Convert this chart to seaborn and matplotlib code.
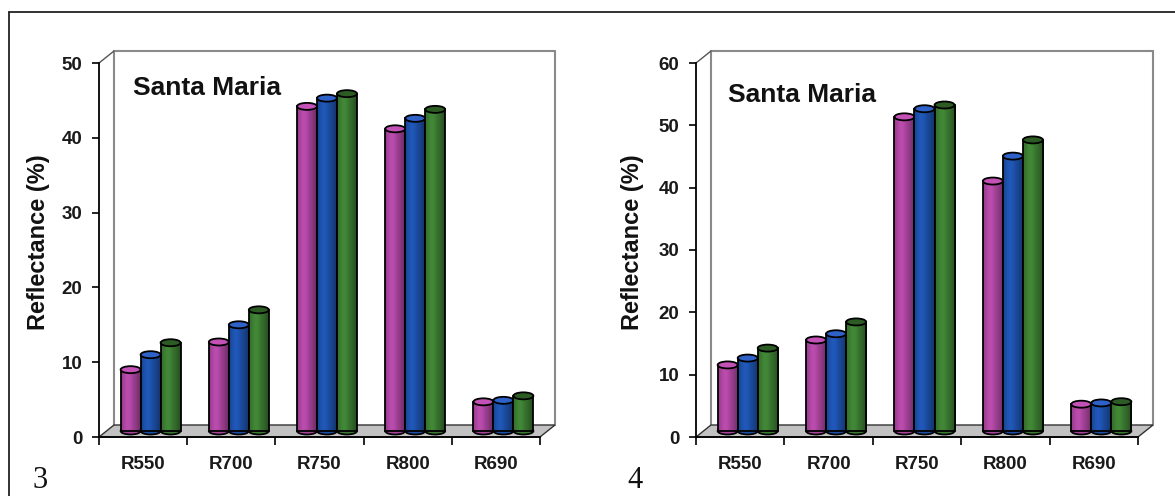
import numpy as np
import pandas as pd
import matplotlib
matplotlib.use("Agg")
import matplotlib.pyplot as plt
import matplotlib.transforms as mtransforms
from matplotlib.patches import Ellipse, Polygon
from matplotlib.lines import Line2D
import seaborn as sns

# ---- data -----------------------------------------------------------------
bands = ["R550", "R700", "R750", "R800", "R690"]
series = ["T1", "T2", "T3"]

# panel 3: reflectance (%)
p3_t1 = [8.2, 11.9, 43.4, 40.4, 3.9]
p3_t2 = [10.2, 14.2, 44.5, 41.8, 4.1]
p3_t3 = [11.8, 16.2, 45.1, 43.0, 4.7]

# panel 4: reflectance (%)
p4_t1 = [10.6, 14.6, 50.4, 40.1, 4.3]
p4_t2 = [11.7, 15.6, 51.7, 44.1, 4.5]
p4_t3 = [13.3, 17.5, 52.3, 46.7, 4.7]

p3_ticks = [0, 10, 20, 30, 40, 50]
p4_ticks = [0, 10, 20, 30, 40, 50, 60]

site = "Santa Maria"
ylabel = "Reflectance (%)"

# ---- style ----------------------------------------------------------------
sns.set_theme(style="white")
plt.rcParams["font.family"] = ["Liberation Sans", "DejaVu Sans"]

bar_colors = ["#a8449c", "#1d4fa6", "#3b7a31"]
top_colors = ["#c452b6", "#2f62c8", "#2c5c24"]

W, H, DPI = 1175, 496, 100
DEPTH = (15, 12)  # pixel offset of the back plane


def long_frame(t1, t2, t3):
    rows = []
    for s, vals in zip(series, [t1, t2, t3]):
        for b, v in zip(bands, vals):
            rows.append({"band": b, "series": s, "value": v})
    return pd.DataFrame(rows)


def shade(rgb, n=64):
    """Horizontal shading profile of a cylinder face."""
    t = np.linspace(0, 1, n)
    f = 0.82 + 0.30 * np.exp(-((t - 0.35) / 0.28) ** 2)
    f = f - 0.18 * np.clip((t - 0.75) / 0.25, 0, 1)
    col = np.clip(np.array(rgb)[None, :] * f[:, None], 0, 1)
    return col[None, :, :]


def panel(fig, rect, df, ymax, ticks, label_pos, title_pos):
    ax = fig.add_axes(rect)
    ax.set_facecolor("none")
    sns.barplot(data=df, x="band", y="value", hue="series", order=bands,
                hue_order=series, palette=bar_colors, saturation=1,
                width=0.68, gap=0, legend=False, ax=ax,
                edgecolor="black", linewidth=1.3, errorbar=None)
    ax.set_xlim(-0.5, len(bands) - 0.5)
    ax.set_ylim(0, ymax)

    ax_w = rect[2] * W
    ax_h = rect[3] * H
    ux = (len(bands)) / ax_w   # data units per pixel (x)
    uy = ymax / ax_h           # data units per pixel (y)
    dx, dy = DEPTH[0] * ux, DEPTH[1] * uy
    x0, x1 = -0.5, len(bands) - 0.5

    # floor and walls of the 3-D frame
    floor = Polygon([(x0, 0), (x1, 0), (x1 + dx, dy), (x0 + dx, dy)],
                    closed=True, facecolor="#c2c2c2", edgecolor="#333333",
                    lw=1.0, zorder=1, clip_on=False)
    ax.add_patch(floor)
    wall = "#8a8a8a"
    for xs, ys in [([x0 + dx, x0 + dx], [dy, ymax + dy]),
                   ([x0 + dx, x1 + dx], [ymax + dy, ymax + dy]),
                   ([x1 + dx, x1 + dx], [dy, ymax + dy])]:
        ax.add_line(Line2D(xs, ys, color=wall, lw=1.5, zorder=0.5,
                           clip_on=False))
    ax.add_line(Line2D([x0, x0 + dx], [ymax, ymax + dy], color="#555555",
                       lw=1.0, zorder=0.6, clip_on=False))

    # cylinders: shift bars to the middle depth and add rounded ends
    shift = mtransforms.offset_copy(ax.transData, x=DEPTH[0] / 2,
                                    y=DEPTH[1] / 2, units="dots")
    bars = [p for p in ax.patches if p is not floor]
    n = len(bands)
    ell_h = 7 * uy
    for k, bar in enumerate(bars):
        s = k // n
        i = k % n
        z = 3 + i * 0.1 + s * 0.01
        bx, bw, bh = bar.get_x(), bar.get_width(), bar.get_height()
        rgb = matplotlib.colors.to_rgb(bar_colors[s])
        bar.set_transform(shift)
        bar.set_zorder(z + 0.002)
        bottom = Ellipse((bx + bw / 2, 0), bw, ell_h, transform=shift,
                         facecolor=bar_colors[s], edgecolor="black",
                         lw=1.3, zorder=z, clip_on=False)
        ax.add_patch(bottom)
        img = ax.imshow(shade(rgb), extent=(bx, bx + bw, 0, bh),
                        transform=shift, aspect="auto",
                        interpolation="bilinear", zorder=z + 0.001)
        img.set_clip_path(bar)
        bar.set_facecolor("none")
        top = Ellipse((bx + bw / 2, bh), bw, ell_h, transform=shift,
                      facecolor=top_colors[s], edgecolor="black",
                      lw=1.3, zorder=z + 0.003, clip_on=False)
        ax.add_patch(top)

    ax.set_xlim(x0, x1)
    ax.set_ylim(0, ymax)
    ax.set_aspect("auto")

    # axes
    for side in ["top", "right"]:
        ax.spines[side].set_visible(False)
    for side in ["left", "bottom"]:
        ax.spines[side].set_visible(True)
        ax.spines[side].set_color("black")
        ax.spines[side].set_linewidth(1.3)
        ax.spines[side].set_zorder(2)
    ax.set_yticks(ticks)
    ax.set_yticklabels([str(t) for t in ticks], fontsize=13.5,
                       fontweight="bold", color="#1a1a1a")
    ax.tick_params(axis="y", which="major", left=True, length=5, width=1.2,
                   color="black", pad=7)
    ax.set_xticks(range(n))
    ax.set_xticklabels(bands, fontsize=13.5, fontweight="bold",
                       color="#1a1a1a")
    ax.set_xticks(np.arange(n + 1) - 0.5, minor=True)
    ax.tick_params(axis="x", which="major", bottom=True, length=0, pad=14)
    ax.tick_params(axis="x", which="minor", bottom=True, length=6, width=1.2,
                   color="black")
    ax.set_xlabel("")
    ax.set_ylabel(ylabel, fontsize=17, fontweight="bold", color="#111111")
    ax.yaxis.set_label_coords(*label_pos)
    ax.text(title_pos[0], title_pos[1], site, transform=ax.transAxes,
            fontsize=19, fontweight="bold", color="#111111",
            ha="left", va="baseline", zorder=10)
    ax.grid(False)
    return ax


fig = plt.figure(figsize=(W / DPI, H / DPI), dpi=DPI)
fig.patch.set_facecolor("white")

bottom = (H - 437) / H
height = (437 - 63) / H
panel(fig, [99 / W, bottom, 441 / W, height], long_frame(p3_t1, p3_t2, p3_t3),
      50, p3_ticks, (-0.112, 0.52), (0.077, 0.914))
panel(fig, [696 / W, bottom, 442 / W, height], long_frame(p4_t1, p4_t2, p4_t3),
      60, p4_ticks, (-0.118, 0.52), (0.072, 0.896))

# frame lines along the top and left of the figure
fig.add_artist(Line2D([9 / W, 9 / W], [0, 1 - 12 / H], color="#222222",
                      lw=1.3, transform=fig.transFigure))
fig.add_artist(Line2D([9 / W, 1], [1 - 12 / H, 1 - 12 / H], color="#222222",
                      lw=1.3, transform=fig.transFigure))

serif = ["Liberation Serif", "DejaVu Serif"]
fig.text(32 / W, (H - 488) / H, "3", family=serif, fontsize=22,
         color="#111111", ha="left", va="baseline")
fig.text(627 / W, (H - 488) / H, "4", family=serif, fontsize=22,
         color="#111111", ha="left", va="baseline")

fig.savefig("out.png", dpi=DPI, facecolor="white")
